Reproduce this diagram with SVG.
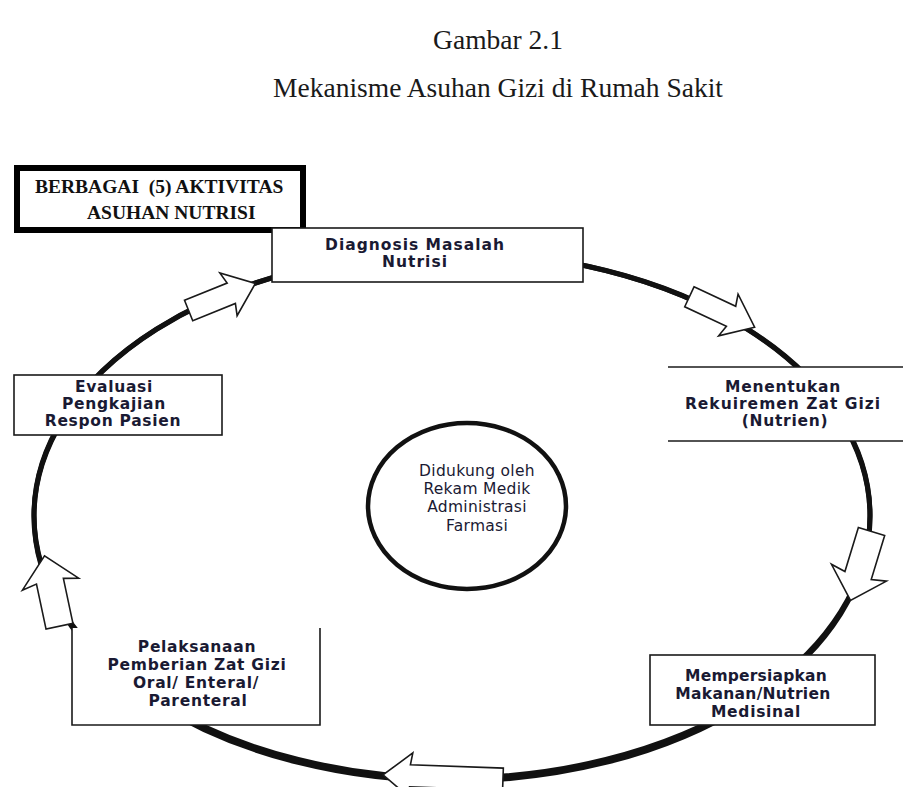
<svg xmlns="http://www.w3.org/2000/svg" xmlns:xlink="http://www.w3.org/1999/xlink" width="903" height="787" viewBox="0 0 903 787">
  <style>
    .cap { font-family: "Liberation Serif", "Times New Roman", serif; font-size: 27.5px; fill: #1a1a1a; text-anchor: middle; }
    .head { font-family: "Liberation Serif", "Times New Roman", serif; font-size: 19.5px; font-weight: bold; fill: #111; white-space: pre; }
    .lbl { font-family: "DejaVu Sans", Verdana, sans-serif; font-weight: bold; font-size: 15.5px; letter-spacing: 0.7px; fill: #1a1a33; text-anchor: middle; }
    .inner { font-family: "DejaVu Sans", Verdana, sans-serif; font-size: 15.5px; letter-spacing: 0.3px; fill: #1a1a33; text-anchor: middle; }
    .box { fill: #fff; stroke: #1a1a1a; stroke-width: 1.6; }
    .ring { fill: none; stroke: #111; stroke-width: 5; }
    .arrow { fill: #fff; stroke: #1a1a1a; stroke-width: 1.6; stroke-linejoin: miter; }
  </style>

  <defs>
    <!-- block arrow pointing along +x, centred on the origin -->
    <path id="arr" d="M-36,-11 L10,-11 L7,-23 L36,0 L7,23 L10,11 L-36,11 Z" vector-effect="non-scaling-stroke"/>
    <path id="arr-long" d="M-60,-11 L33,-11 L31,-23 L60,0 L31,23 L33,11 L-60,11 Z"/>
  </defs>

  <rect width="903" height="787" fill="#fff"/>

  <!-- caption -->
  <text class="cap" x="498" y="49">Gambar 2.1</text>
  <text class="cap" x="498" y="97">Mekanisme Asuhan Gizi di Rumah Sakit</text>

  <!-- title box -->
  <g id="title-box">
    <rect x="17" y="168" width="286" height="62" fill="#fff" stroke="#000" stroke-width="6"/>
    <text class="head" x="35" y="193">BERBAGAI  (5) AKTIVITAS</text>
    <text class="head" x="87" y="219">ASUHAN NUTRISI</text>
  </g>

  <!-- cycle ring (thicker along the bottom) and flow arrows -->
  <g id="connectors">
    <ellipse class="ring" cx="452" cy="515" rx="418" ry="263"/>
    <ellipse class="ring" cx="452" cy="516.5" rx="418" ry="264.5"/>
    <use xlink:href="#arr" class="arrow" transform="translate(222,297) rotate(-22)"/>
    <use xlink:href="#arr" class="arrow" transform="translate(722,312) rotate(25)"/>
    <use xlink:href="#arr" class="arrow" transform="translate(861,566) rotate(107) scale(1,1.25)"/>
    <use xlink:href="#arr-long" class="arrow" transform="translate(443,777) rotate(182)"/>
    <use xlink:href="#arr" class="arrow" transform="translate(52,591) rotate(-102) scale(1,1.25)"/>
  </g>

  <g id="center">
    <ellipse cx="467" cy="506" rx="99" ry="83" fill="none" stroke="#111" stroke-width="4.5"/>
    <text class="inner" x="477" y="476">Didukung oleh</text>
    <text class="inner" x="477" y="494">Rekam Medik</text>
    <text class="inner" x="477" y="512">Administrasi</text>
    <text class="inner" x="477" y="531">Farmasi</text>
  </g>

  <g id="diagnosis">
    <rect class="box" x="272" y="228" width="311" height="54"/>
    <text class="lbl" x="415" y="250" style="letter-spacing:1px">Diagnosis Masalah</text>
    <text class="lbl" x="415" y="267" style="letter-spacing:1px">Nutrisi</text>
  </g>

  <g id="requirement">
    <rect x="668" y="367" width="235" height="74" fill="#fff"/>
    <line x1="668" y1="367" x2="903" y2="367" stroke="#1a1a1a" stroke-width="1.6"/>
    <line x1="668" y1="441" x2="903" y2="441" stroke="#1a1a1a" stroke-width="1.6"/>
    <text class="lbl" x="783" y="392">Menentukan</text>
    <text class="lbl" x="783" y="409" style="letter-spacing:1px">Rekuiremen Zat Gizi</text>
    <text class="lbl" x="785" y="426">(Nutrien)</text>
  </g>

  <g id="preparation">
    <rect class="box" x="650" y="655" width="225" height="70"/>
    <text class="lbl" x="756" y="681" style="letter-spacing:0.2px">Mempersiapkan</text>
    <text class="lbl" x="753" y="699" style="letter-spacing:0.3px">Makanan/Nutrien</text>
    <text class="lbl" x="756" y="717">Medisinal</text>
  </g>

  <g id="implementation">
    <rect x="72" y="628" width="248" height="97" fill="#fff"/>
    <path d="M72,628 V725 H320 V628" fill="none" stroke="#1a1a1a" stroke-width="1.6"/>
    <text class="lbl" x="197" y="652">Pelaksanaan</text>
    <text class="lbl" x="197" y="670">Pemberian Zat Gizi</text>
    <text class="lbl" x="196" y="688">Oral/ Enteral/</text>
    <text class="lbl" x="198" y="706">Parenteral</text>
  </g>

  <g id="evaluation">
    <rect class="box" x="14" y="375" width="208" height="60"/>
    <text class="lbl" x="114" y="392">Evaluasi</text>
    <text class="lbl" x="114" y="409">Pengkajian</text>
    <text class="lbl" x="113" y="426">Respon Pasien</text>
  </g>
</svg>
